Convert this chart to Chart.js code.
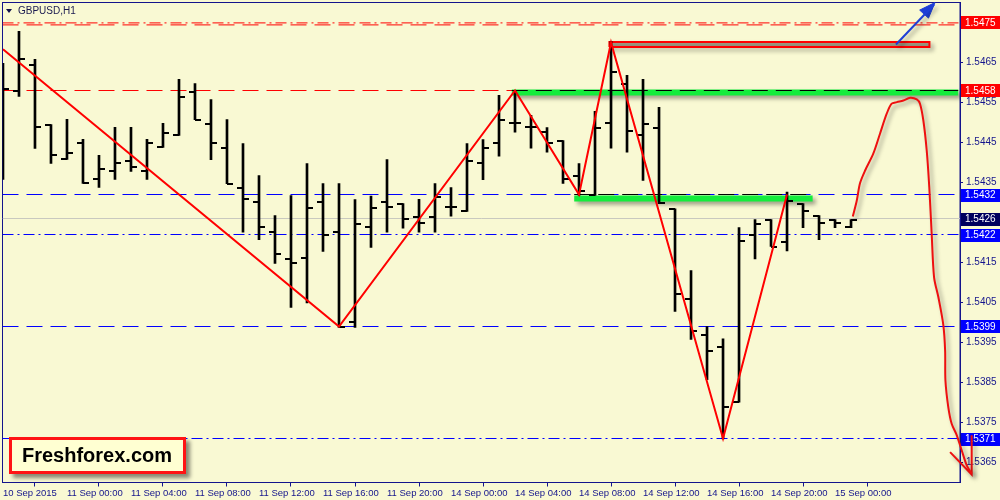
<!DOCTYPE html>
<html><head><meta charset="utf-8">
<script src="https://cdn.jsdelivr.net/npm/chart.js@4.4.1/dist/chart.umd.min.js"></script>
<style>
html,body{margin:0;padding:0;background:#f9f9d3;}
#wrap{position:relative;width:1000px;height:500px;overflow:hidden;background:#f9f9d3;}
#c{position:absolute;left:0;top:0;}
#tri{position:absolute;left:6px;top:9px;width:0;height:0;border-left:3.5px solid transparent;border-right:3.5px solid transparent;border-top:4px solid #10104a;}
#title{position:absolute;left:18px;top:5px;font:10px "Liberation Sans",Arial,sans-serif;line-height:11px;color:#1a1a50;white-space:nowrap;}
#brand{position:absolute;left:9px;top:437px;width:177px;height:37px;box-sizing:border-box;border:3px solid #ff1414;background:#ffffd2;box-shadow:4px 4px 4px rgba(0,0,0,.45);font:bold 20px "Liberation Sans",Arial,sans-serif;color:#000;line-height:30px;padding-left:10px;white-space:nowrap;}
</style></head>
<body>
<div id="wrap">
<canvas id="c" width="1000" height="500"></canvas>
<div id="tri"></div>
<div id="title">GBPUSD,H1</div>
<div id="brand">Freshforex.com</div>
</div>
<script>
// ---- axis ticks ----
const xTickIdx = [0,4,8,12,16,20,24,28,32,36,40,44,48,52];
const xTickLabels = ['10 Sep 2015','11 Sep 00:00','11 Sep 04:00','11 Sep 08:00','11 Sep 12:00','11 Sep 16:00','11 Sep 20:00','14 Sep 00:00','14 Sep 04:00','14 Sep 08:00','14 Sep 12:00','14 Sep 16:00','14 Sep 20:00','15 Sep 00:00'];
const yTickVals = [1.5365,1.5375,1.5385,1.5395,1.5405,1.5415,1.5425,1.5435,1.5445,1.5455,1.5465,1.5475];

// ---- hourly OHLC (bar index = hour from 10 Sep 20:00) ----
const opens  = [null,1.54578,1.54645,1.54495,1.54408,1.54448,1.54358,1.54378,1.54405,1.54380,1.54438,1.54468,1.54576,1.54496,1.54436,1.54336,1.54301,1.54226,1.54158,1.54161,1.54301,1.54226,1.54001,1.54238,1.54301,1.54297,1.54265,1.54265,1.54288,1.54278,1.54399,1.54449,1.54498,1.54488,1.54476,1.54455,1.54366,1.54318,1.54498,1.54597,1.54469,1.54486,1.54284,1.54058,1.53968,1.53938,1.53801,1.54219,1.54257,1.54201,1.54297,1.54267,1.54257,1.54238];
const highs  = [1.54648,1.54728,1.54658,1.54495,1.54508,1.54458,1.54418,1.54488,1.54488,1.54458,1.54498,1.54608,1.54597,1.54557,1.54507,1.54447,1.54367,1.54267,1.54317,1.54397,1.54347,1.54347,1.54307,1.54316,1.54407,1.54297,1.54308,1.54347,1.54337,1.54447,1.54457,1.54568,1.54580,1.54518,1.54487,1.54455,1.54397,1.54528,1.54703,1.54618,1.54608,1.54538,1.54284,1.54130,1.53990,1.53959,1.54237,1.54257,1.54257,1.54326,1.54297,1.54267,1.54257,1.54257];
const lows   = [1.54358,1.54565,1.54435,1.54398,1.54408,1.54348,1.54338,1.54358,1.54378,1.54358,1.54438,1.54468,1.54507,1.54407,1.54347,1.54226,1.54207,1.54148,1.54038,1.54049,1.54178,1.53988,1.53988,1.54188,1.54226,1.54236,1.54226,1.54226,1.54266,1.54278,1.54357,1.54416,1.54476,1.54436,1.54426,1.54348,1.54318,1.54318,1.54436,1.54426,1.54355,1.54297,1.54028,1.53958,1.53857,1.53709,1.53801,1.54159,1.54190,1.54179,1.54237,1.54207,1.54237,1.54237];
const closes = [1.54585,1.54658,1.54488,1.54420,1.54425,1.54348,1.54385,1.54398,1.54388,1.54448,1.54475,1.54565,1.54507,1.54449,1.54347,1.54308,1.54238,1.54171,1.54150,1.54286,1.54218,1.53990,1.54246,1.54286,1.54288,1.54259,1.54248,1.54314,1.54288,1.54405,1.54436,1.54506,1.54498,1.54488,1.54448,1.54358,1.54329,1.54486,1.54626,1.54478,1.54496,1.54298,1.54071,1.53980,1.53930,1.53790,1.54205,1.54246,1.54190,1.54305,1.54278,1.54248,1.54248,1.54257];

// ---- zigzag ----
const zigIdx   = [0,21,32,36,38,45,49];
const zigPrice = [1.54683,1.5399,1.5458,1.5432,1.5470,1.5371,1.5432];

// ---- horizontal levels ----
const levelValues = [1.54749,1.54744,1.5458,1.5432,1.5426,1.5422,1.5399,1.5371];
const levelColors = ['#ff0000','#ff0000','#ff0000','#0000ff','#c9c9bf','#0000ff','#0000ff','#0000ff'];
const levelDash   = [[11,4,2,4],[16,8],[16,8],[16,8],[],[11,4,2,4],[16,8],[11,4,2,4]];

// ---- price labels on the right axis ----
const labelValues = [1.5475,1.5458,1.5432,1.5426,1.5422,1.5399,1.5371];
const labelBg     = ['#ff0000','#ff0000','#0000ff','#00005e','#0000ff','#0000ff','#0000ff'];

// ---- green zones + black dashed trend lines on them ----
const bandPrice = [1.54575,1.5431];
const bandFrom  = [31.8,35.7];
const bandTo    = [59.7,50.6];
const trendPrice = [1.5458,1.5432];

// ---- red rectangle ----
const rectX = [37.9,57.9];
const rectY = [1.54689,1.54701];

// ---- blue arrow ----
const arrowX = [55.81,58.19];
const arrowY = [1.54695,1.54795];
const headX = [58.25,57.29,57.84,58.25];
const headY = [1.54800,1.54781,1.54761,1.54800];

// ---- hand-drawn forecast curve ----
const curveX = [53.11,53.36,53.56,53.88,54.39,54.81,55.23,55.54,55.86,56.27,56.69,57.11,57.31,57.52,57.73,57.89,58.04,58.19,58.46,58.77,58.88,58.90,59.08,59.29,59.61,59.92,60.23,60.54];
const curveY = [1.54265,1.54305,1.54348,1.54380,1.54422,1.54472,1.54522,1.54547,1.54551,1.54555,1.54562,1.54558,1.54547,1.54505,1.54430,1.54338,1.54222,1.54113,1.54063,1.53993,1.53930,1.53855,1.53788,1.53747,1.53718,1.53680,1.53643,1.53622];
const curveHeadX = [59.19,60.54,60.54];
const curveHeadY = [1.53676,1.53620,1.53718];

const X_MIN = -0.03, X_MAX = 59.81, Y_MIN = 1.5360, Y_MAX = 1.5480;
const NAVY = '#14148c';

function tickImg(left){
  const c = document.createElement('canvas'); c.width = 12; c.height = 2;
  const g = c.getContext('2d'); g.fillStyle = '#000';
  g.fillRect(left ? 0 : 6, 0, 6, 2);
  return c;
}
const pts = (xs, ys) => xs.map((x,i)=>({x:x, y:ys[i]}));
const idx = opens.map((_,i)=>i);

const datasets = [];
levelValues.forEach((v,i)=>datasets.push({type:'line',data:[{x:X_MIN,y:v},{x:X_MAX,y:v}],borderColor:levelColors[i],borderWidth:1,borderDash:levelDash[i],pointRadius:0,fill:false,order:9}));
bandPrice.forEach((v,i)=>datasets.push({type:'line',data:[{x:bandFrom[i],y:v},{x:bandTo[i],y:v}],borderColor:'#14ec3c',borderWidth:6,pointRadius:0,fill:false,order:8,shadow:true,borderCapStyle:'butt'}));
trendPrice.forEach((v,i)=>datasets.push({type:'line',data:[{x:bandFrom[i],y:v},{x:bandTo[i],y:v}],borderColor:'#000',borderWidth:1,borderDash:[16,8],pointRadius:0,fill:false,order:7}));
datasets.push({type:'line',data:pts([rectX[0],rectX[1],rectX[1],rectX[0],rectX[0]],[rectY[0],rectY[0],rectY[1],rectY[1],rectY[0]]),borderColor:'#ff0000',borderWidth:2,backgroundColor:'#aca88e',fill:'shape',pointRadius:0,order:6,shadow:true});
datasets.push({type:'bar',data:idx.map(i=>({x:i,y:[lows[i],highs[i]]})),backgroundColor:'#000',borderWidth:0,barThickness:2,order:5});
datasets.push({type:'scatter',data:idx.filter(i=>opens[i]!==null).map(i=>({x:i,y:opens[i]})),pointStyle:tickImg(true),pointRadius:3,order:4});
datasets.push({type:'scatter',data:idx.map(i=>({x:i,y:closes[i]})),pointStyle:tickImg(false),pointRadius:3,order:4});
datasets.push({type:'line',data:pts(zigIdx,zigPrice),borderColor:'#ff0000',borderWidth:2,pointRadius:0,fill:false,order:3});
// curve data given in reverse drawing order so points past the axis end are not trimmed
datasets.push({type:'line',data:pts(curveX,curveY).reverse(),borderColor:'#ee1010',borderWidth:2,tension:0.3,pointRadius:0,fill:false,order:2,clip:false,shadow:true});
datasets.push({type:'line',data:pts(curveHeadX,curveHeadY).reverse(),borderColor:'#ee1010',borderWidth:2,pointRadius:0,fill:false,order:2,clip:false,shadow:true});
datasets.push({type:'line',data:pts(arrowX,arrowY),borderColor:'#1e3fd6',borderWidth:2,pointRadius:0,fill:false,order:1,clip:false,shadow:true});
datasets.push({type:'line',data:pts(headX,headY),borderColor:'#1e3fd6',backgroundColor:'#1e3fd6',borderWidth:1,fill:'shape',pointRadius:0,order:1,clip:false});

const shadowPlugin = {
  id:'shadow',
  beforeDatasetDraw(chart,args){
    if(chart.data.datasets[args.index].shadow){
      const c=chart.ctx; c.save();
      c.shadowColor='rgba(0,0,0,0.38)'; c.shadowBlur=4; c.shadowOffsetX=3; c.shadowOffsetY=3;
    }
  },
  afterDatasetDraw(chart,args){
    if(chart.data.datasets[args.index].shadow) chart.ctx.restore();
  }
};
const framePlugin = {
  id:'frame',
  beforeDraw(chart){
    const c=chart.ctx; c.save(); c.fillStyle='#f9f9d3'; c.fillRect(0,0,chart.width,chart.height); c.restore();
  },
  beforeDatasetsDraw(chart){
    const c=chart.ctx, a=chart.chartArea, ys=chart.scales.y;
    c.save();
    c.strokeStyle=NAVY; c.lineWidth=1;
    c.strokeRect(a.left, a.top, a.right-a.left, a.bottom-a.top);
    c.font='10px "Liberation Sans", Arial, sans-serif';
    c.textBaseline='middle'; c.textAlign='left';
    labelValues.forEach((v,i)=>{
      const y=ys.getPixelForValue(v);
      c.fillStyle=labelBg[i];
      c.fillRect(Math.round(a.right)+1, Math.round(y)-6, chart.width-a.right-1, 13);
      c.fillStyle='#ffffff';
      c.fillText(v.toFixed(4), a.right+5, y+0.5);
    });
    c.restore();
  }
};

function zeroPad(s){ s.paddingLeft=0; s.paddingRight=0; s.paddingTop=0; s.paddingBottom=0; }

new Chart(document.getElementById('c'), {
  type:'scatter',
  data:{datasets:datasets},
  plugins:[shadowPlugin, framePlugin],
  options:{
    responsive:false, animation:false, events:[],
    layout:{autoPadding:false,padding:{left:2.5,top:2.5,right:0,bottom:0}},
    plugins:{legend:{display:false},tooltip:{enabled:false},title:{display:false}},
    scales:{
      x:{type:'linear',min:X_MIN,max:X_MAX,offset:false,
        afterBuildTicks(s){ s.ticks = xTickIdx.map(v=>({value:v})); },
        afterFit(s){ s.height=17.5; zeroPad(s); },
        grid:{display:true,drawOnChartArea:false,drawTicks:true,tickLength:4,color:NAVY},
        border:{display:true,color:NAVY},
        ticks:{autoSkip:false,maxRotation:0,minRotation:0,align:'start',padding:1,color:NAVY,
          font:{family:'"Liberation Sans", Arial, sans-serif',size:9.5},
          callback:(v)=>{const k=xTickIdx.indexOf(v); return k>=0?xTickLabels[k]:'';}}
      },
      y:{type:'linear',position:'right',min:Y_MIN,max:Y_MAX,
        afterBuildTicks(s){ s.ticks = yTickVals.map(v=>({value:v})); },
        afterFit(s){ s.width=40; zeroPad(s); },
        grid:{display:true,drawOnChartArea:false,drawTicks:true,tickLength:3,color:NAVY},
        border:{display:true,color:NAVY},
        ticks:{autoSkip:false,padding:3,color:NAVY,
          font:{family:'"Liberation Sans", Arial, sans-serif',size:10},
          callback:(v)=>Number(v).toFixed(4)}
      }
    }
  }
});
</script>
</body></html>
